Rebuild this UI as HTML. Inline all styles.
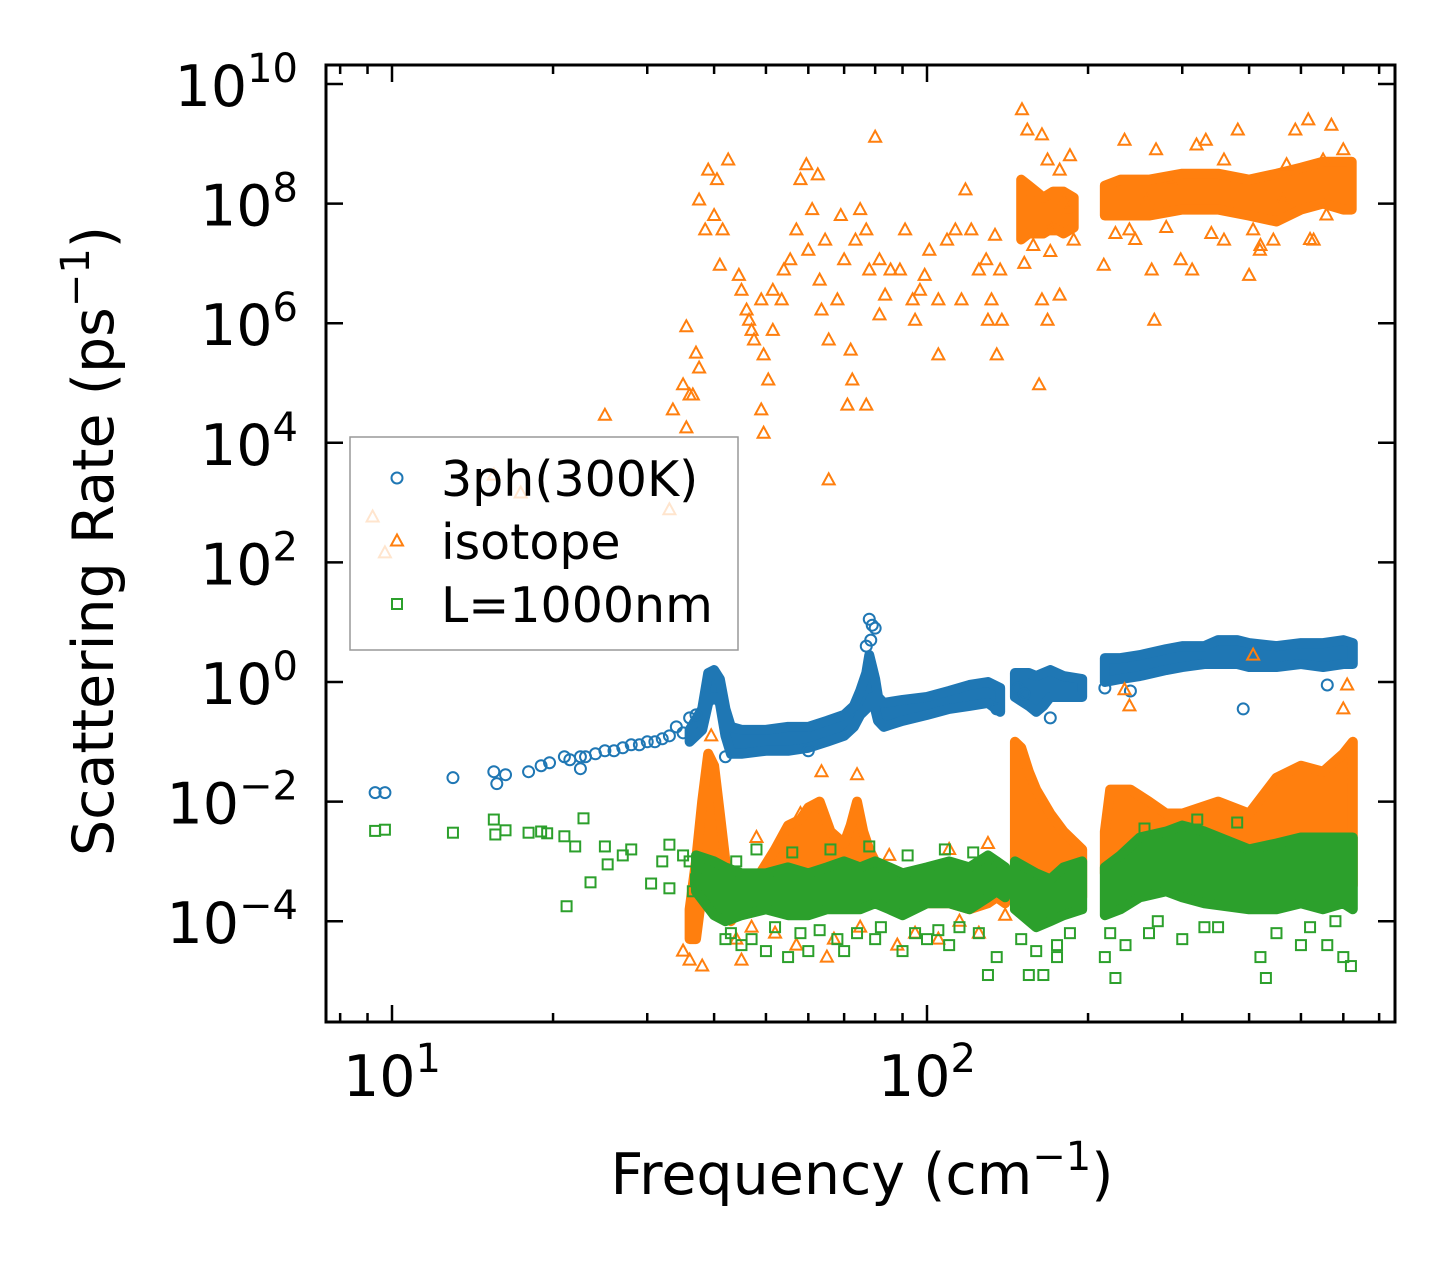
<!DOCTYPE html>
<html><head><meta charset="utf-8"><title>Scattering Rate</title>
<style>
html,body{margin:0;padding:0;background:#fff;}
svg{display:block;font-family:"DejaVu Sans","Liberation Sans",sans-serif;}
</style></head>
<body>
<svg id="chart" width="1455" height="1271" viewBox="0 0 1455 1271" xmlns="http://www.w3.org/2000/svg">
<rect width="1455" height="1271" fill="#fff"/>
<defs><clipPath id="plotclip"><rect x="326" y="65" width="1069" height="957"/></clipPath></defs>
<g id="marks" clip-path="url(#plotclip)"></g>
<g id="axes"></g>
<g id="legend"></g>
</svg>
<script>
// ---------- data (frequency in cm^-1, value as log10 of rate) ----------
const xTickValues = [10, 100];
const xTickLabels = ["1", "2"];
const yTickValues = [10, 8, 6, 4, 2, 0, -2, -4];
const yTickLabels = ["10", "8", "6", "4", "2", "0", "\u22122", "\u22124"];

// 3ph(300K) dense band
const blueBandF  = [36,38,39,40,41,42,43,45,50,55,60,65,70,73,75,77,78,79,80,81,83,90,100,110,120,130,137,null,146,155,160,165,170,180,195,null,215,230,250,280,300,330,350,380,400,450,500,550,600,625];
const blueBandLo = [-1.0,-0.8,-0.35,-0.25,-0.35,-0.9,-1.2,-1.2,-1.15,-1.15,-1.1,-1.0,-0.9,-0.75,-0.55,-0.45,-0.35,-0.25,-0.45,-0.65,-0.75,-0.65,-0.55,-0.45,-0.4,-0.35,-0.5,null,-0.25,-0.4,-0.5,-0.4,-0.25,-0.25,-0.25,null,0.0,0.05,0.1,0.2,0.25,0.3,0.3,0.3,0.25,0.25,0.3,0.25,0.3,0.3];
const blueBandHi = [-0.8,-0.45,0.15,0.2,0.05,-0.45,-0.75,-0.8,-0.8,-0.75,-0.75,-0.65,-0.55,-0.4,-0.15,0.15,0.45,0.25,0.05,-0.25,-0.35,-0.3,-0.25,-0.15,-0.05,0.0,-0.1,null,0.15,0.15,0.1,0.15,0.2,0.1,0.05,null,0.4,0.4,0.45,0.55,0.6,0.6,0.7,0.7,0.65,0.6,0.65,0.65,0.7,0.65];
// 3ph(300K) individual points
const blueF = [9.3,9.7,13,15.5,16.3,15.7,18,19,19.7,21,21.5,22.5,22.5,23,24,25,26,27,28,29,30,31,32,33,34,35,36,37,78,79,80,78.5,77,42,60,390,170,135,148,152,215,240,560];
const blueV = [-1.85,-1.85,-1.6,-1.5,-1.55,-1.7,-1.5,-1.4,-1.35,-1.25,-1.3,-1.45,-1.25,-1.25,-1.2,-1.15,-1.15,-1.1,-1.05,-1.05,-1.0,-1.0,-0.95,-0.9,-0.75,-0.85,-0.6,-0.55,1.05,0.95,0.9,0.7,0.6,-1.25,-1.15,-0.45,-0.6,-0.45,-0.1,-0.2,-0.1,-0.15,-0.05];

// isotope dense bands (upper and lower)
const orangeBandF  = [150,155,160,165,172,180,188,null,215,230,260,300,350,400,450,500,550,600,622,null,36,37,38,39,40,41,42,43,45,48,52,55,58,60,63,66,70,72,74,76,78,80,82,85,90,100,110,120,130,135,140,null,146,150,155,160,170,180,195,null,215,220,240,260,280,300,350,400,450,500,550,600,625];
const orangeBandLo = [7.4,7.5,7.5,7.5,7.6,7.5,7.6,null,7.8,7.8,7.8,7.9,7.9,7.8,7.7,7.9,8.0,7.9,7.9,null,-4.3,-4.3,-3.5,-3.5,-3.0,-3.3,-3.8,-4.0,-3.7,-3.8,-3.7,-3.5,-3.3,-3.2,-3.2,-3.4,-3.4,-3.5,-3.3,-3.5,-3.5,-3.6,-3.7,-3.6,-3.8,-3.7,-3.7,-3.8,-3.7,-3.6,-3.7,null,-3.5,-3.3,-3.2,-3.5,-3.5,-3.7,-3.6,null,-3.2,-3.0,-3.1,-3.2,-3.3,-3.3,-3.5,-3.6,-3.5,-3.3,-3.4,-3.5,-3.4];
const orangeBandHi = [8.4,8.3,8.2,8.1,8.2,8.2,8.1,null,8.3,8.4,8.4,8.5,8.5,8.4,8.5,8.6,8.7,8.7,8.7,null,-3.8,-3.0,-2.0,-1.2,-1.4,-2.2,-3.0,-3.2,-3.3,-3.3,-2.8,-2.4,-2.3,-2.1,-2.0,-2.5,-2.7,-2.4,-2.0,-2.5,-2.8,-3.0,-3.2,-3.1,-3.2,-3.2,-3.2,-3.1,-3.1,-3.0,-3.2,null,-1.0,-1.1,-1.5,-1.8,-2.2,-2.5,-2.8,null,-2.5,-1.8,-1.8,-2.0,-2.2,-2.2,-2.0,-2.2,-1.6,-1.4,-1.5,-1.2,-1.0];
// isotope individual points
const orangeF = [9.2,9.7,15.5,17.4,25,33,33.5,35,35.5,35.5,37,37.5,36,36.5,65.5,
 37.5,39,40.5,38.5,40,41,44.5,45,46.5,47.5,49.5,50.5,49,49.5,51.5,53.5,55.5,57,58,59.5,62.5,61,60,63,63.5,65.5,68,70,73.5,75,77,80,78,72,71,77,72.5,81.5,85.5,89,91,94,97,95,101,105,109,105,113,118,121,125,129,132,134,135,137,138,130,116,99,81.5,83.5,69,64.5,54,51.5,49,47,46,42.5,41.5,
 150.5,154,164,168,177,181,164,168,162,177,188,184,171,152,158,170,185,
 214,234,239,258,263,266,268,285,298,313,319,359,381,400,407,419,444,470,488,516,528,558,570,550,461,359,332,225,245,280,340,420,520,600,
 239,234,407,610,600,36,35,38,45,65,74,63.5,39.5,
 44,47,52,57,67,75,88,95,105,115,125,140,48,58,85,110,130];
const orangeV = [2.76,2.16,3.46,3.16,4.46,2.88,4.55,4.97,5.94,4.25,5.5,5.25,4.8,4.8,3.38,
 8.06,8.56,8.4,7.56,7.8,6.97,6.8,6.55,6.05,5.72,5.47,5.05,4.55,4.16,5.88,6.39,7.06,7.56,8.4,8.65,8.48,7.9,7.22,6.72,6.22,5.72,6.39,7.06,7.39,7.9,7.56,9.11,6.89,5.55,4.63,4.63,5.05,7.06,6.89,6.89,7.56,6.39,6.55,6.05,7.22,6.39,7.39,5.47,7.56,8.23,7.56,6.89,7.06,6.39,7.47,5.47,6.89,6.05,6.05,6.39,6.8,6.14,6.47,7.8,7.39,6.89,6.55,6.39,5.88,6.22,8.73,7.56,
 9.57,9.23,9.15,8.73,8.56,8.06,6.39,6.05,4.97,6.47,7.39,7.9,7.56,7.0,7.3,7.2,8.8,
 6.97,9.06,7.56,8.06,6.89,6.05,8.9,8.4,7.06,6.89,8.98,8.73,9.23,6.8,7.56,7.22,7.39,8.65,9.23,9.4,7.39,7.81,9.31,8.73,8.06,7.39,9.06,7.5,7.4,7.6,7.5,7.3,7.4,8.9,
 -0.4,-0.13,0.45,-0.05,-0.45,-4.65,-4.5,-4.75,-4.65,-4.6,-1.55,-1.5,-0.9,
 -4.3,-4.1,-4.2,-4.4,-4.3,-4.1,-4.4,-4.2,-4.3,-4.0,-4.2,-3.9,-2.6,-2.2,-2.9,-2.8,-2.7];

// L=1000nm dense band
const greenBandF  = [37,40,42,45,50,55,60,65,70,75,80,85,90,100,110,120,130,135,140,null,146,160,170,180,195,null,215,230,250,280,300,330,400,450,500,550,600,625];
const greenBandLo = [-3.5,-3.9,-4.0,-3.9,-3.8,-3.9,-3.9,-3.8,-3.8,-3.8,-3.7,-3.8,-3.9,-3.7,-3.7,-3.8,-3.6,-3.5,-3.6,null,-3.8,-4.1,-4.0,-3.9,-3.8,null,-3.9,-3.8,-3.6,-3.5,-3.6,-3.7,-3.8,-3.8,-3.7,-3.8,-3.7,-3.8];
const greenBandHi = [-2.9,-3.0,-3.1,-3.2,-3.2,-3.1,-3.2,-3.1,-3.0,-3.1,-3.0,-3.1,-3.2,-3.1,-3.0,-3.1,-2.9,-3.0,-3.1,null,-3.0,-3.2,-3.3,-3.1,-3.0,null,-3.1,-2.9,-2.6,-2.5,-2.4,-2.5,-2.8,-2.7,-2.6,-2.6,-2.6,-2.6];
// L=1000nm individual points
const greenF = [9.3,9.7,13,15.5,15.6,16.3,18,19,19.5,21,22,22.8,21.2,23.5,25,25.3,27,28,30.5,32,33,35,36,37,36.5,40,42,45,50,55,60,70,80,90,100,110,130,135,155,165,175,215,225,260,300,350,420,430,500,560,600,620,33,44,130,380,320,255,
 43,47,52,58,63,68,74,82,95,105,115,125,48,56,66,78,92,108,122,150,160,175,185,220,235,270,330,450,520,580];
const greenV = [-2.49,-2.47,-2.52,-2.3,-2.55,-2.48,-2.52,-2.5,-2.53,-2.58,-2.75,-2.28,-3.75,-3.35,-2.75,-3.05,-2.9,-2.8,-3.37,-3.0,-2.72,-2.9,-3.0,-3.3,-3.5,-3.8,-4.3,-4.4,-4.5,-4.6,-4.5,-4.5,-4.3,-4.5,-4.3,-4.4,-4.9,-4.6,-4.9,-4.9,-4.6,-4.6,-4.95,-4.2,-4.3,-4.1,-4.6,-4.95,-4.4,-4.4,-4.6,-4.75,-3.45,-3.0,-3.1,-2.35,-2.3,-2.45,
 -4.2,-4.3,-4.1,-4.2,-4.15,-4.3,-4.2,-4.1,-4.2,-4.15,-4.1,-4.2,-2.8,-2.85,-2.8,-2.75,-2.9,-2.8,-2.85,-4.3,-4.5,-4.4,-4.2,-4.2,-4.4,-4.0,-4.1,-4.2,-4.1,-4.0];

// ---------- axis functions ----------
const X0 = 392, XD = 535;       // pixel of 10^1, px per decade
const Y0 = 682, YD = 59.8;      // pixel of 10^0, px per decade
function xs(f){ return X0 + (Math.log10(f) - 1) * XD; }
function ys(l){ return Y0 - l * YD; }
const NS = "http://www.w3.org/2000/svg";
function mk(tag, attrs){ const e = document.createElementNS(NS, tag); for (const k in attrs) e.setAttribute(k, attrs[k]); return e; }

const C_BLUE = "#1f77b4", C_ORANGE = "#ff7f0e", C_GREEN = "#2ca02c";
const marksG = document.getElementById("marks");

function drawBand(F, lo, hi, color, name){
  let seg = [];
  const flush = () => {
    if (seg.length > 1) {
      const pts = seg.map(i => xs(F[i]) + "," + ys(hi[i]))
        .concat(seg.slice().reverse().map(i => xs(F[i]) + "," + ys(lo[i])));
      const p = mk("polygon", {points: pts.join(" "), fill: color, stroke: color, "stroke-width": 10, "stroke-linejoin": "round"});
      
      
      marksG.appendChild(p);
    }
    seg = [];
  };
  for (let i = 0; i < F.length; i++) { if (F[i] === null) flush(); else seg.push(i); }
  flush();
}
function circle(cx, cy, color){ return mk("circle", {cx: cx, cy: cy, r: 5.5, fill: "none", stroke: color, "stroke-width": 2}); }
function tri(cx, cy, color){ return mk("polygon", {points: `${cx},${cy-6.5} ${cx-6},${cy+4.5} ${cx+6},${cy+4.5}`, fill: "none", stroke: color, "stroke-width": 2}); }
function sq(cx, cy, color){ return mk("rect", {x: cx-5, y: cy-5, width: 10, height: 10, fill: "none", stroke: color, "stroke-width": 2}); }

function drawPoints(F, V, shape, color, name){
  for (let i = 0; i < F.length; i++) {
    const m = shape(xs(F[i]), ys(V[i]), color);
    
    
    marksG.appendChild(m);
  }
}
drawBand(blueBandF, blueBandLo, blueBandHi, C_BLUE, "3ph-dense-band");
drawPoints(blueF, blueV, circle, C_BLUE, "3ph-point");
drawBand(orangeBandF, orangeBandLo, orangeBandHi, C_ORANGE, "isotope-dense-band");
drawPoints(orangeF, orangeV, tri, C_ORANGE, "isotope-point");
drawBand(greenBandF, greenBandLo, greenBandHi, C_GREEN, "boundary-dense-band");
drawPoints(greenF, greenV, sq, C_GREEN, "boundary-point");

// ---------- axes ----------
const axesG = document.getElementById("axes");
const L = 326, R = 1395, T = 65, B = 1022;
const frame = mk("rect", {x: L, y: T, width: R-L, height: B-T, fill: "none", stroke: "#000", "stroke-width": 3});


axesG.appendChild(frame);

function tick(x1, y1, x2, y2, name){
  const t = mk("line", {x1: x1, y1: y1, x2: x2, y2: y2, stroke: "#000", "stroke-width": 2.5});
  
  
  axesG.appendChild(t);
}
const xMinor = [8,9,20,30,40,50,60,70,80,90,200,300,400,500,600,700];
xMinor.forEach(v => { const x = xs(v); tick(x, B, x, B-9, "x-minor-tick"); tick(x, T, x, T+9, "x-minor-tick-top"); });
xTickValues.forEach((v, i) => {
  const x = xs(v);
  tick(x, B, x, B-17, "x-major-tick"); tick(x, T, x, T+17, "x-major-tick-top");
  const t = mk("text", {x: x, y: 1096, "font-size": 57, "text-anchor": "middle", fill: "#000"});
  
  
  t.innerHTML = `10<tspan dy="-24" font-size="40">${xTickLabels[i]}</tspan>`;
  axesG.appendChild(t);
});
yTickValues.forEach((v, i) => {
  const y = ys(v);
  tick(L, y, L+17, y, "y-major-tick"); tick(R, y, R-17, y, "y-major-tick-right");
  const t = mk("text", {x: 298, y: y + 22, "font-size": 57, "text-anchor": "end", fill: "#000"});
  
  
  t.innerHTML = `10<tspan dy="-24" font-size="40">${yTickLabels[i]}</tspan>`;
  axesG.appendChild(t);
});
const xt = mk("text", {x: 862, y: 1194, "font-size": 57, "text-anchor": "middle", fill: "#000"});


xt.innerHTML = 'Frequency (cm<tspan dy="-24" font-size="40">\u22121</tspan><tspan dy="24">)</tspan>';
axesG.appendChild(xt);
const yt = mk("text", {x: 0, y: 0, "font-size": 57, "text-anchor": "middle", fill: "#000", transform: "translate(113,541) rotate(-90)"});


yt.innerHTML = 'Scattering Rate (ps<tspan dy="-24" font-size="40">\u22121</tspan><tspan dy="24">)</tspan>';
axesG.appendChild(yt);

// ---------- legend ----------
const lg = document.getElementById("legend");
const box = mk("rect", {x: 350, y: 437, width: 388, height: 213, fill: "rgba(255,255,255,0.8)", stroke: "#999", "stroke-width": 1.5});


lg.appendChild(box);
const legendLabels = ["3ph(300K)", "isotope", "L=1000nm"];
const legendShapes = [circle, tri, sq];
const legendColors = [C_BLUE, C_ORANGE, C_GREEN];
const legendRowY = [478, 541, 604];
legendLabels.forEach((lab, i) => {
  const m = legendShapes[i](397, legendRowY[i], legendColors[i]);
  
  
  lg.appendChild(m);
  const t = mk("text", {x: 441, y: legendRowY[i] + 18, "font-size": 49, fill: "#000"});
  
  
  t.textContent = lab;
  lg.appendChild(t);
});
</script>
</body></html>
